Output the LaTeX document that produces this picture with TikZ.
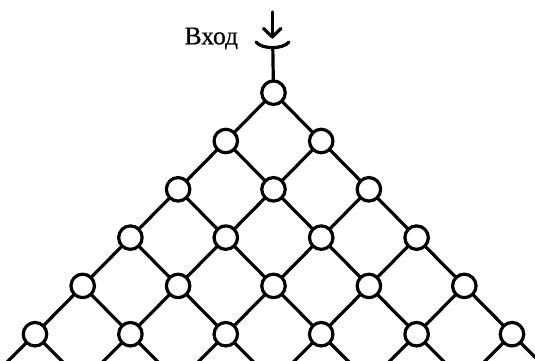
\documentclass[tikz,border=0pt]{standalone}
\usepackage{fontspec}
\setmainfont{Liberation Serif}
\newfontfamily\lblfont[FakeBold=0.6]{Liberation Serif}
\usetikzlibrary{calc}
\begin{document}
\begin{tikzpicture}[x=1pt,y=-1pt,line width=3.2pt,line cap=round,line join=round,
  nd/.style={circle,draw,fill=white,minimum size=23.5pt,inner sep=0pt,line width=3.2pt},
  lbl/.style={font=\lblfont\fontsize{25.5}{30}\selectfont,inner sep=0pt,anchor=base west}]
\useasboundingbox (0,0) rectangle (535,360);
\begin{scope}
\clip (0,0) rectangle (535,360);
% node positions
\foreach \r in {0,...,5}{
  \foreach \k in {0,...,\r}{
    \pgfmathsetmacro{\xx}{273.5+(\k-\r/2)*95.4}
    \pgfmathsetmacro{\yy}{92.7+\r*48.3}
    \coordinate (p\r-\k) at (\xx,\yy);
  }
}
% edges
\foreach \r in {0,...,4}{
  \foreach \k in {0,...,\r}{
    \pgfmathtruncatemacro{\rn}{\r+1}
    \pgfmathtruncatemacro{\kn}{\k+1}
    \draw (p\r-\k) -- (p\rn-\k);
    \draw (p\r-\k) -- (p\rn-\kn);
  }
}
% bottom legs
\foreach \k in {0,...,5}{
  \coordinate (l\k) at ($(p5-\k)+(-28,28)$);
  \coordinate (r\k) at ($(p5-\k)+(28,28)$);
  \draw (p5-\k) -- (l\k);
  \draw (p5-\k) -- (r\k);
}
% input
\coordinate (cupL) at (256,42);
\coordinate (cupR) at (289,42);
\coordinate (cupB) at (272.8,47.5);
\draw (cupL) .. controls (262,49.5) and (283,49.5) .. (cupR);
\draw (cupB) -- (p0-0);
\coordinate (arrT) at (272.3,12);
\coordinate (arrH) at (272.3,37);
\draw (arrT) -- (arrH);
\draw (263.5,28.5) -- (arrH) -- (281,28.5);
% circles
\foreach \r in {0,...,5}{
  \foreach \k in {0,...,\r}{
    \node[nd] (n\r-\k) at (p\r-\k) {};
  }
}
\end{scope}
\node[lbl] (vhod) at (183,44.3) {Вход};
\end{tikzpicture}
\end{document}
